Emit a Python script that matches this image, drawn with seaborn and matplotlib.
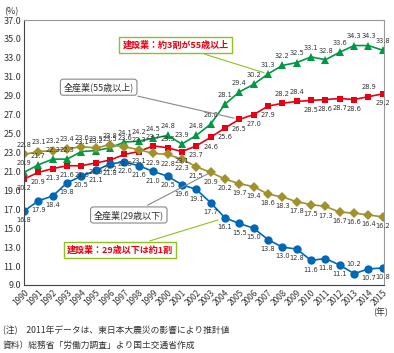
import pandas as pd
import seaborn as sns
import matplotlib.pyplot as plt

years = list(range(1990, 2016))
# 建設業 55歳以上 (green)
con_55 = [20.9, 21.7, 22.3, 22.3, 23.1, 23.2, 23.5, 24.1, 24.2, 24.5, 24.8, 23.9, 24.8,
          26.0, 28.1, 29.4, 30.2, 31.3, 32.2, 32.5, 33.1, 32.8, 33.6, 34.3, 34.3, 33.8]
# 全産業 55歳以上 (red)
all_55 = [20.2, 20.9, 21.3, 21.6, 21.6, 21.9, 22.2, 22.8, 23.1, 23.7, 23.5, 23.1, 23.7,
          24.6, 25.6, 26.5, 27.0, 27.9, 28.2, 28.4, 28.5, 28.6, 28.7, 28.6, 28.9, 29.2]
# 全産業 29歳以下 (olive)
all_29 = [22.8, 23.1, 23.2, 23.4, 23.6, 23.5, 23.8, 23.6, 23.3, 22.9, 22.8, 22.3, 21.5,
          20.9, 20.2, 19.7, 19.4, 18.6, 18.3, 17.8, 17.5, 17.3, 16.7, 16.6, 16.4, 16.2]
# 建設業 29歳以下 (blue)
con_29 = [16.8, 17.9, 18.4, 19.8, 20.5, 21.1, 21.8, 22.0, 21.6, 21.0, 20.5, 19.6, 19.1,
          17.7, 16.1, 15.5, 15.0, 13.8, 13.0, 12.8, 11.6, 11.8, 11.1, 10.2, 10.7, 10.8]

series = {'建設業(55歳以上)': con_55, '全産業(55歳以上)': all_55,
          '全産業(29歳以下)': all_29, '建設業(29歳以下)': con_29}
colors = {'建設業(55歳以上)': '#009943', '全産業(55歳以上)': '#e60012',
          '全産業(29歳以下)': '#a0912c', '建設業(29歳以下)': '#0068b7'}
markers = {'建設業(55歳以上)': '^', '全産業(55歳以上)': 's',
           '全産業(29歳以下)': 'D', '建設業(29歳以下)': 'o'}
msize = {'建設業(55歳以上)': 6, '全産業(55歳以上)': 5,
         '全産業(29歳以下)': 5, '建設業(29歳以下)': 6}

df = pd.concat([pd.DataFrame({'year': years, 'value': v, 'series': k})
                for k, v in series.items()])

sns.set_style('white')
plt.rcParams['font.family'] = ['Noto Sans CJK JP', 'DejaVu Sans']

fig = plt.figure(figsize=(3.94, 3.53), dpi=100)
ax = fig.add_axes([24/394, 1-285/353, 360/394, 265/353])

for name in series:
    sns.lineplot(data=df[df.series == name], x='year', y='value', ax=ax,
                 color=colors[name], marker=markers[name], markersize=msize[name],
                 markeredgewidth=0, linewidth=1.2, legend=False)

# value labels: which points get the label above
above = {
    '建設業(55歳以上)': set(years),
    '全産業(55歳以上)': {1999, 2000, 2008, 2009, 2014},
    '全産業(29歳以下)': set(range(1990, 1999)),
    '建設業(29歳以下)': {2013},
}
for name, vals in series.items():
    for yr, v in zip(years, vals):
        dy = 4.5 if yr in above[name] else -4.5
        ax.annotate(f'{v:.1f}', (yr, v), xytext=(0, dy), textcoords='offset points',
                    ha='center', va='bottom' if dy > 0 else 'top',
                    fontsize=4.8, color='#333333',
                    family=['Liberation Sans Narrow', 'DejaVu Sans'])

ax.set_xlim(1990, 2015.08)
ax.set_ylim(9, 37)
ax.set_yticks([9 + 2*i for i in range(15)])
ax.set_yticklabels([f'{9 + 2*i:.1f}' for i in range(15)], fontsize=6.5, color='#333333')
ax.set_xticks(years)
ax.set_xticklabels([str(y) for y in years], rotation=45, ha='right',
                   rotation_mode='anchor', fontsize=6, color='#333333')
ax.tick_params(axis='x', direction='in', length=2, width=0.6, color='#666666', pad=2)
ax.tick_params(axis='y', length=0, pad=2)
ax.set_xlabel('')
ax.set_ylabel('')
for s in ['left', 'bottom']:
    ax.spines[s].set_color('#444444')
    ax.spines[s].set_linewidth(0.8)
for s in ['top', 'right']:
    ax.spines[s].set_color('#999999')
    ax.spines[s].set_linewidth(0.8)

# callout boxes
green_box = dict(boxstyle='square,pad=0.35', fc='white', ec='#8dc21f', lw=1)
grey_box = dict(boxstyle='round,pad=0.35,rounding_size=0.3', fc='white', ec='#888888', lw=0.8)
ax.annotate('建設業：約3割が55歳以上', xy=(2007, con_55[17]), xytext=(2000.55, 34.35),
            ha='center', va='center', fontsize=6.5, color='#e60012', fontweight='bold',
            bbox=green_box, arrowprops=dict(arrowstyle='-', color='#8dc21f', lw=0.8,
                                            shrinkB=3))
ax.annotate('全産業(55歳以上)', xy=(2005, all_55[15]), xytext=(1995.2, 29.9),
            ha='center', va='center', fontsize=6.5, color='#333333',
            bbox=grey_box, arrowprops=dict(arrowstyle='-', color='#888888', lw=0.8,
                                           shrinkB=4))
ax.annotate('全産業(29歳以下)', xy=(2003, all_29[13]), xytext=(1997.3, 16.4),
            ha='center', va='center', fontsize=6.5, color='#333333',
            bbox=grey_box, arrowprops=dict(arrowstyle='-', color='#888888', lw=0.8,
                                           shrinkB=2))
ax.annotate('建設業：29歳以下は約1割', xy=(2004, con_29[14]), xytext=(1996.7, 12.7),
            ha='center', va='center', fontsize=6.5, color='#e60012', fontweight='bold',
            bbox=green_box, arrowprops=dict(arrowstyle='-', color='#8dc21f', lw=0.8,
                                            shrinkB=5))

fig.text(4/394, 1-12/353, '(%)', fontsize=6.5, color='#333333', va='center')
fig.text(388/394, 1-312/353, '(年)', fontsize=6.5, color='#333333', va='center', ha='right')
fig.text(3/394, 1-330/353, '(注)　2011年データは、東日本大震災の影響により推計値',
         fontsize=6.3, color='#333333', va='center')
fig.text(3/394, 1-345/353, '資料）総務省「労働力調査」より国土交通省作成',
         fontsize=6.3, color='#333333', va='center')

fig.savefig('out.png', dpi=100)
